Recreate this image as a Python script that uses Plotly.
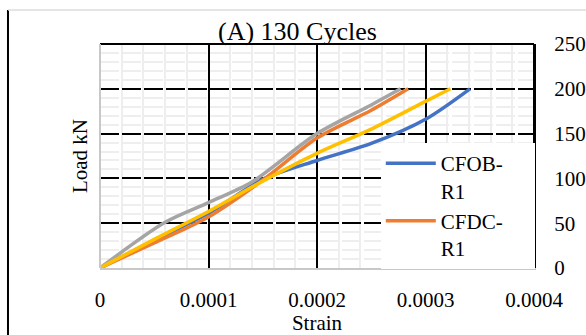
import plotly.graph_objects as go

# ---- data ----
series_names = ["CFOB-R1", "CFDC-R1", "S3", "S4"]
legend_labels = ["CFOB-&nbsp;&nbsp;&nbsp;&nbsp;&nbsp;<br>R1", "CFDC-<br>R1"]

strain_cfob = [0, 0.00005, 0.0001, 0.00015, 0.0002, 0.00025, 0.0003, 0.000341]
load_cfob = [0, 31, 61, 99, 120, 139, 166, 200]

strain_cfdc = [0, 0.00005, 0.0001, 0.00015, 0.0002, 0.00025, 0.000284]
load_cfdc = [0, 28, 57, 98, 145, 176, 200]

strain_gray = [0, 0.00006, 0.0001, 0.00014, 0.0002, 0.00025, 0.000277]
load_gray = [0, 51, 73, 96, 150, 182, 200]

strain_yellow = [0, 0.00005, 0.0001, 0.00015, 0.0002, 0.00025, 0.0003, 0.000323]
load_yellow = [0, 32, 63, 97, 128, 155, 186, 200]

x_tickvals = [0, 0.0001, 0.0002, 0.0003, 0.0004]
x_ticktext = ["0", "0.0001", "0.0002", "0.0003", "0.0004"]
y_tickvals = [0, 50, 100, 150, 200, 250]

FONT = "Liberation Serif, Times New Roman, serif"
LW = 3.5

fig = go.Figure()
fig.add_trace(go.Scatter(x=strain_cfob, y=load_cfob, mode="lines", name=legend_labels[0],
                         line=dict(color="#4472C4", width=LW, shape="spline", smoothing=0.8)))
fig.add_trace(go.Scatter(x=strain_cfdc, y=load_cfdc, mode="lines", name=legend_labels[1],
                         line=dict(color="#ED7D31", width=LW, shape="spline", smoothing=0.8)))
fig.add_trace(go.Scatter(x=strain_gray, y=load_gray, mode="lines", name=series_names[2],
                         showlegend=False,
                         line=dict(color="#A5A5A5", width=LW, shape="spline", smoothing=0.8)))
fig.add_trace(go.Scatter(x=strain_yellow, y=load_yellow, mode="lines", name=series_names[3],
                         showlegend=False,
                         line=dict(color="#FFC000", width=LW, shape="spline", smoothing=0.8)))

fig.update_layout(
    width=586, height=335,
    margin=dict(l=100, r=52, t=44, b=67, autoexpand=False),
    paper_bgcolor="white", plot_bgcolor="white",
    font=dict(family=FONT, size=21, color="black"),
    title=dict(text="(A) 130 Cycles", x=0.455, xref="paper", xanchor="center",
               y=1 - 31 / 335, yref="container", yanchor="middle",
               font=dict(family=FONT, size=26, color="black")),
    xaxis=dict(range=[0, 0.0004], tickvals=x_tickvals, ticktext=x_ticktext,
               showgrid=True, gridcolor="black", gridwidth=2, automargin=False,
               minor=dict(dtick=0.00002, showgrid=True, gridcolor="#EEEEEE", gridwidth=2),
               zeroline=False, showline=True, linecolor="#C8C8C8", linewidth=2,
               ticks="", ticklabelstandoff=12,
               title=dict(text="Strain", standoff=6, font=dict(family=FONT, size=21))),
    yaxis=dict(range=[0, 250], tickvals=y_tickvals, side="right", automargin=False,
               showgrid=True, gridcolor="black", gridwidth=2, griddash="19px,3px",
               minor=dict(dtick=10, showgrid=True, gridcolor="#EEEEEE", gridwidth=2),
               zeroline=False, showline=True, linecolor="black", linewidth=2,
               ticks="", ticklabelstandoff=14),
    legend=dict(x=0.647, y=0.558, xanchor="left", yanchor="top",
                bgcolor="white", borderwidth=0, valign="top",
                font=dict(family=FONT, size=21), itemwidth=50,
                tracegroupgap=0),
    showlegend=True,
)

# Y-axis title on the left side
fig.add_annotation(text="Load kN", xref="paper", yref="paper", x=-0.046, y=0.5,
                   textangle=-90, showarrow=False, xanchor="center", yanchor="middle",
                   font=dict(family=FONT, size=21, color="black"))

# borders: top solid black, left gray, right black
fig.add_shape(type="line", xref="paper", yref="paper", x0=0, x1=1, y0=1, y1=1,
              line=dict(color="black", width=2))
fig.add_shape(type="line", xref="paper", yref="paper", x0=0, x1=0, y0=0, y1=1,
              line=dict(color="#C8C8C8", width=2))
fig.add_shape(type="line", xref="paper", yref="paper", x0=1, x1=1, y0=0, y1=1,
              line=dict(color="black", width=2))
# outer frame lines of the chart area
fig.add_shape(type="line", xref="paper", yref="paper", x0=-0.212, x1=-0.212, y0=-0.32, y1=1.152,
              line=dict(color="black", width=2))
fig.add_shape(type="line", xref="paper", yref="paper", x0=-0.212, x1=1.2, y0=1.152, y1=1.152,
              line=dict(color="#DDDDDD", width=1.5))

fig.write_html("out.html")
